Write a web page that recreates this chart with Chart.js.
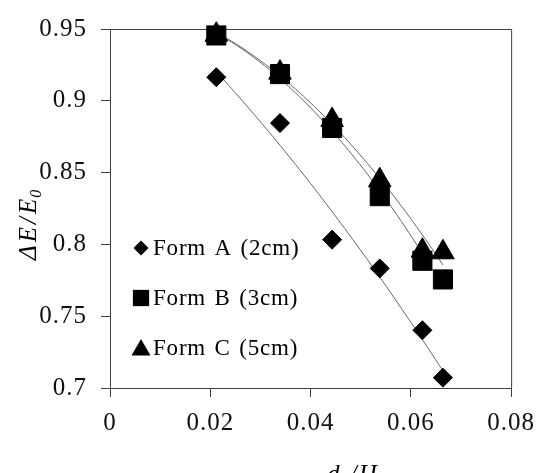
<!DOCTYPE html>
<html lang="en">
<head>
    <meta charset="UTF-8">
    <title>ΔE/E0 vs d/Hi</title>
    <script src="https://cdn.jsdelivr.net/npm/chart.js@4"></script>
    <style>
        html, body { margin: 0; padding: 0; background: #fff; overflow: hidden; }
        .chart-container { position: relative; width: 544px; height: 473px; }
    </style>
</head>
<body>

<div class="chart-container">
    <canvas id="energyChart"></canvas>
</div>

<script>
    // data
    const dH = [0.0212, 0.0339, 0.0443, 0.0538, 0.0623, 0.0664];
    const formA = [0.9164, 0.8845, 0.8033, 0.7833, 0.7402, 0.7072];
    const formB = [0.9455, 0.9186, 0.8811, 0.8336, 0.7886, 0.7756];
    const formC = [0.9460, 0.9196, 0.8866, 0.8447, 0.7956, 0.7945];
    const legendLabels = ['Form A (2cm)', 'Form B (3cm)', 'Form C (5cm)'];
    const xTicks = [0, 0.02, 0.04, 0.06, 0.08];
    const yTicks = [0.7, 0.75, 0.8, 0.85, 0.9, 0.95];

    const SERIF = '"Liberation Serif", "Times New Roman", Times, serif';

    function toPoints(xs, ys) {
        return xs.map((x, i) => ({ x: x, y: ys[i] }));
    }

    // 2nd order polynomial trendline (least squares), like Excel
    function polyTrend(xs, ys, steps) {
        let n = xs.length, sx = 0, sx2 = 0, sx3 = 0, sx4 = 0, sy = 0, sxy = 0, sx2y = 0;
        for (let i = 0; i < n; i++) {
            const x = xs[i], y = ys[i];
            sx += x; sx2 += x * x; sx3 += x * x * x; sx4 += x * x * x * x;
            sy += y; sxy += x * y; sx2y += x * x * y;
        }
        // solve 3x3 system
        const m = [[n, sx, sx2, sy], [sx, sx2, sx3, sxy], [sx2, sx3, sx4, sx2y]];
        for (let c = 0; c < 3; c++) {
            for (let r = c + 1; r < 3; r++) {
                const f = m[r][c] / m[c][c];
                for (let k = c; k < 4; k++) m[r][k] -= f * m[c][k];
            }
        }
        const coef = [0, 0, 0];
        for (let r = 2; r >= 0; r--) {
            let s = m[r][3];
            for (let k = r + 1; k < 3; k++) s -= m[r][k] * coef[k];
            coef[r] = s / m[r][r];
        }
        const x0 = Math.min(...xs), x1 = Math.max(...xs);
        const pts = [];
        for (let i = 0; i <= steps; i++) {
            const x = x0 + (x1 - x0) * i / steps;
            pts.push({ x: x, y: coef[0] + coef[1] * x + coef[2] * x * x });
        }
        return pts;
    }

    function markerPath(ctx, style, x, y, r) {
        ctx.beginPath();
        if (style === 'rectRot') {
            ctx.moveTo(x - r, y); ctx.lineTo(x, y - r); ctx.lineTo(x + r, y); ctx.lineTo(x, y + r);
        } else if (style === 'rect') {
            const s = r * Math.SQRT1_2;
            ctx.rect(x - s, y - s, 2 * s, 2 * s);
        } else {
            const h = Math.sqrt(3) / 2;
            ctx.moveTo(x, y - r); ctx.lineTo(x + r * h, y + r / 2); ctx.lineTo(x - r * h, y + r / 2);
        }
        ctx.closePath();
        ctx.fill();
    }

    // frame, legend inside plot and axis titles
    const extras = {
        id: 'extras',
        beforeDraw(chart) {
            // the figure's text is set a little wide
            chart.ctx.letterSpacing = '1px';
        },
        beforeDatasetsDraw(chart) {
            const { ctx, chartArea: a } = chart;
            ctx.save();
            ctx.strokeStyle = '#404040';
            ctx.lineWidth = 1;
            ctx.beginPath();
            ctx.moveTo(a.left, a.top + 0.5);
            ctx.lineTo(a.right + 0.5, a.top + 0.5);
            ctx.lineTo(a.right + 0.5, a.bottom);
            ctx.stroke();
            ctx.restore();
        },
        afterDraw(chart) {
            const { ctx, chartArea: a } = chart;
            ctx.save();
            // legend
            const styles = ['rectRot', 'rect', 'triangle'];
            const radii = [7.5, 11.5, 11];
            ctx.fillStyle = '#000';
            ctx.font = '23px ' + SERIF;
            ctx.textBaseline = 'middle';
            ctx.letterSpacing = '0.8px';
            ctx.wordSpacing = '2px';
            legendLabels.forEach((label, i) => {
                const y = a.top + 219 + i * 50;
                markerPath(ctx, styles[i], a.left + 31, y + (i === 2 ? 2 : 0), radii[i]);
                ctx.fillText(label, a.left + 43, y + 1);
            });
            ctx.wordSpacing = '0px';

            // y title: ΔE/E0 (rotated)
            ctx.textBaseline = 'alphabetic';
            ctx.save();
            ctx.translate(36, 260);
            ctx.rotate(-Math.PI / 2);
            ctx.font = 'italic 25px ' + SERIF;
            ctx.letterSpacing = '3px';
            ctx.fillText('\u0394E/E', 0, 0);
            const w = ctx.measureText('\u0394E/E').width;
            ctx.font = 'italic 16px ' + SERIF;
            ctx.letterSpacing = '0px';
            ctx.fillText('0', w - 2, 5);
            ctx.restore();

            // x title: d/Hi (cut by the bottom edge)
            ctx.font = 'italic 25px ' + SERIF;
            ctx.letterSpacing = '2px';
            ctx.fillText('d /H', 327, 482);
            const w2 = ctx.measureText('d /H').width;
            ctx.font = 'italic 16px ' + SERIF;
            ctx.letterSpacing = '0px';
            ctx.fillText('i', 327 + w2, 488);
            ctx.restore();
            ctx.letterSpacing = '0px';
        }
    };

    const tickFont = { family: SERIF, size: 25 };

    function drawChart() {
        new Chart(document.getElementById('energyChart'), {
            type: 'scatter',
            data: {
                datasets: [
                    { label: legendLabels[0], data: toPoints(dH, formA), pointStyle: 'rectRot', pointRadius: 9.5,
                      backgroundColor: '#000', borderColor: '#000', borderWidth: 1, clip: false },
                    { label: legendLabels[1], data: toPoints(dH, formB), pointStyle: 'rect', pointRadius: 13.5,
                      backgroundColor: '#000', borderColor: '#000', borderWidth: 1, clip: false },
                    { label: legendLabels[2], data: toPoints(dH, formC), pointStyle: 'triangle', pointRadius: 13,
                      backgroundColor: '#000', borderColor: '#000', borderWidth: 1, clip: false },
                    { label: 'trend A', data: polyTrend(dH, formA, 60), showLine: true, pointRadius: 0,
                      borderColor: '#666', borderWidth: 1 },
                    { label: 'trend B', data: polyTrend(dH, formB, 60), showLine: true, pointRadius: 0,
                      borderColor: '#666', borderWidth: 1 },
                    { label: 'trend C', data: polyTrend(dH, formC, 60), showLine: true, pointRadius: 0,
                      borderColor: '#666', borderWidth: 1 }
                ]
            },
            options: {
                responsive: true,
                maintainAspectRatio: false,
                animation: false,
                layout: { padding: { left: 10, right: 26, top: 22, bottom: 40 } },
                plugins: {
                    legend: { display: false },
                    tooltip: { enabled: false }
                },
                scales: {
                    x: {
                        type: 'linear',
                        min: xTicks[0],
                        max: xTicks[xTicks.length - 1],
                        afterBuildTicks: s => { s.ticks = xTicks.map(v => ({ value: v })); },
                        afterFit: s => { s.height = 45; },
                        grid: { drawOnChartArea: false, drawTicks: true, tickLength: 9, color: '#404040' },
                        border: { display: true, color: '#404040', width: 1 },
                        ticks: { font: tickFont, color: '#111', padding: 11, maxRotation: 0,
                                  callback: v => String(v) }
                    },
                    y: {
                        type: 'linear',
                        min: yTicks[0],
                        max: yTicks[yTicks.length - 1],
                        afterBuildTicks: s => { s.ticks = yTicks.map(v => ({ value: v })); },
                        afterFit: s => { s.width = 100; },
                        grid: { drawOnChartArea: false, drawTicks: true, tickLength: 9, color: '#404040' },
                        border: { display: true, color: '#404040', width: 1 },
                        ticks: { font: tickFont, color: '#111', padding: 14,
                                  callback: v => String(v) }
                    }
                }
            },
            plugins: [extras]
        });
    }

    // make sure the serif face is ready before the canvas uses it
    Promise.all([
        document.fonts.load('24px "Liberation Serif"'),
        document.fonts.load('italic 24px "Liberation Serif"')
    ]).then(drawChart, drawChart);
</script>

</body>
</html>
